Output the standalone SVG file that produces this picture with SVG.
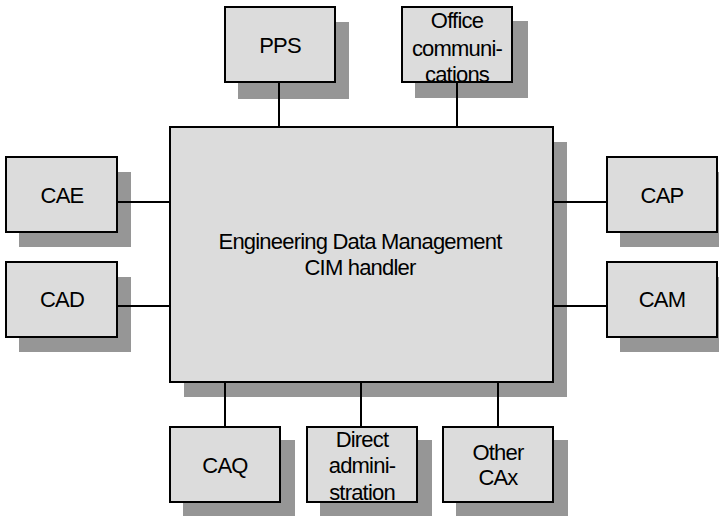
<svg xmlns="http://www.w3.org/2000/svg" width="719" height="516" viewBox="0 0 719 516">
<style>
.sh{fill:#969696}
.bx{fill:#dcdcdc;stroke:#000;stroke-width:2}
.t{font-family:"Liberation Sans",Arial,sans-serif;font-size:22px;letter-spacing:-0.8px;fill:#000;text-anchor:middle}
.c{stroke:#000;stroke-width:2;fill:none}
</style>
<rect width="719" height="516" fill="#fff"/>
<g id="main">
<rect class="sh" x="184" y="142" width="383" height="255"/>
<rect class="bx" x="170" y="127" width="383" height="255"/>
<text class="t" x="360" y="249">Engineering Data Management</text>
<text class="t" x="360" y="275">CIM handler</text>
</g>
<g id="pps">
<rect class="sh" x="238" y="22" width="111" height="77"/>
<rect class="bx" x="225" y="7" width="110" height="75"/>
<text class="t" x="280" y="53">PPS</text>
</g>
<g id="office">
<rect class="sh" x="415" y="21" width="113" height="77"/>
<rect class="bx" x="402" y="7" width="110" height="75"/>
<text class="t" x="457" y="28">Office</text>
<text class="t" x="457" y="56">communi-</text>
<text class="t" x="457" y="82">cations</text>
</g>
<g id="cae">
<rect class="sh" x="19" y="172" width="112" height="75"/>
<rect class="bx" x="6" y="157" width="111" height="75"/>
<text class="t" x="62" y="203">CAE</text>
</g>
<g id="cad">
<rect class="sh" x="19" y="277" width="112" height="75"/>
<rect class="bx" x="6" y="262" width="111" height="75"/>
<text class="t" x="62" y="307">CAD</text>
</g>
<g id="cap">
<rect class="sh" x="620" y="172" width="112" height="75"/>
<rect class="bx" x="607" y="157" width="110" height="75"/>
<text class="t" x="662" y="203">CAP</text>
</g>
<g id="cam">
<rect class="sh" x="620" y="277" width="112" height="75"/>
<rect class="bx" x="607" y="262" width="110" height="75"/>
<text class="t" x="662" y="307">CAM</text>
</g>
<g id="caq">
<rect class="sh" x="183" y="440" width="112" height="80"/>
<rect class="bx" x="170" y="427" width="110" height="75"/>
<text class="t" x="225" y="473">CAQ</text>
</g>
<g id="direct">
<rect class="sh" x="320" y="440" width="112" height="80"/>
<rect class="bx" x="307" y="427" width="110" height="75"/>
<text class="t" x="362" y="447">Direct</text>
<text class="t" x="362" y="473">admini-</text>
<text class="t" x="362" y="500">stration</text>
</g>
<g id="other">
<rect class="sh" x="456" y="440" width="112" height="80"/>
<rect class="bx" x="443" y="427" width="110" height="75"/>
<text class="t" x="498" y="460">Other</text>
<text class="t" x="498" y="485">CAx</text>
</g>
<g id="connectors">
<line class="c" x1="279" y1="82" x2="279" y2="127"/>
<line class="c" x1="457" y1="82" x2="457" y2="127"/>
<line class="c" x1="117" y1="202" x2="170" y2="202"/>
<line class="c" x1="117" y1="306" x2="170" y2="306"/>
<line class="c" x1="553" y1="202" x2="607" y2="202"/>
<line class="c" x1="553" y1="306" x2="607" y2="306"/>
<line class="c" x1="225" y1="382" x2="225" y2="427"/>
<line class="c" x1="361" y1="382" x2="361" y2="427"/>
<line class="c" x1="498" y1="382" x2="498" y2="427"/>
</g>
</svg>
